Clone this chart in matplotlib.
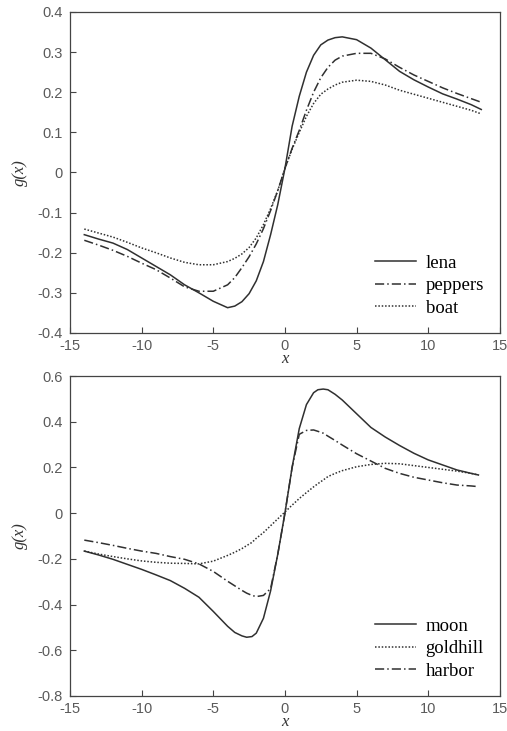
import matplotlib.pyplot as plt
import numpy as np

# top panel
x_top = [-14, -13, -12, -11, -10, -9, -8, -7, -6, -5, -4, -3.5, -3, -2.5, -2, -1.5, -1, -0.5, 0,
         0.5, 1, 1.5, 2, 2.5, 3, 3.5, 4, 5, 6, 7, 8, 9, 10, 11, 12, 13, 13.7]
lena = [-0.155, -0.166, -0.176, -0.192, -0.213, -0.234, -0.255, -0.28, -0.30, -0.321, -0.337,
        -0.333, -0.322, -0.302, -0.27, -0.222, -0.155, -0.08, 0.01,
        0.115, 0.19, 0.25, 0.292, 0.318, 0.33, 0.336, 0.338, 0.331, 0.31, 0.281,
        0.252, 0.231, 0.213, 0.196, 0.183, 0.169, 0.157]
peppers = [-0.169, -0.181, -0.194, -0.209, -0.226, -0.242, -0.263, -0.285, -0.296, -0.296, -0.28,
           -0.262, -0.237, -0.21, -0.178, -0.14, -0.095, -0.045, 0.01,
           0.06, 0.105, 0.155, 0.2, 0.236, 0.262, 0.28, 0.29, 0.297, 0.297, 0.283,
           0.262, 0.243, 0.227, 0.211, 0.197, 0.184, 0.175]
boat = [-0.141, -0.151, -0.161, -0.174, -0.188, -0.20, -0.213, -0.224, -0.23, -0.23, -0.222,
        -0.214, -0.203, -0.187, -0.163, -0.13, -0.09, -0.045, 0.01,
        0.058, 0.1, 0.14, 0.172, 0.195, 0.208, 0.218, 0.225, 0.23, 0.227, 0.218,
        0.205, 0.195, 0.185, 0.175, 0.165, 0.155, 0.146]

# bottom panel
x_bot = [-14, -13, -12, -11, -10, -9, -8, -7, -6, -5, -4, -3.5, -3, -2.67, -2.3, -2, -1.5, -1,
         -0.5, 0, 0.5, 1, 1.5, 2, 2.3, 2.67, 3, 3.5, 4, 5, 6, 7, 8, 9, 10, 11, 12, 13, 13.5]
moon = [-0.166, -0.183, -0.202, -0.224, -0.246, -0.27, -0.295, -0.329, -0.368, -0.43, -0.495,
        -0.522, -0.537, -0.543, -0.54, -0.525, -0.46, -0.34, -0.18, 0.0, 0.2, 0.37, 0.475, 0.527,
        0.54, 0.543, 0.54, 0.52, 0.495, 0.435, 0.375, 0.333, 0.296, 0.262, 0.233, 0.211, 0.189,
        0.174, 0.167]
goldhill = [-0.166, -0.179, -0.19, -0.20, -0.209, -0.215, -0.219, -0.22, -0.222, -0.21, -0.185,
            -0.171, -0.155, -0.142, -0.128, -0.11, -0.085, -0.055, -0.025, 0.005, 0.035, 0.064,
            0.09, 0.115, 0.129, 0.145, 0.16, 0.174, 0.186, 0.203, 0.213, 0.218, 0.216, 0.208,
            0.20, 0.192, 0.184, 0.174, 0.167]
harbor = [-0.118, -0.129, -0.141, -0.154, -0.166, -0.176, -0.19, -0.202, -0.222, -0.255, -0.298,
          -0.318, -0.338, -0.35, -0.36, -0.365, -0.36, -0.33, -0.18, 0.0, 0.2, 0.345, 0.362, 0.364,
          0.358, 0.35, 0.337, 0.318, 0.298, 0.26, 0.228, 0.196, 0.174, 0.157, 0.145, 0.133, 0.123,
          0.119, 0.116]

solid = '-'
dashdot = (0, (6, 2, 1, 2))
dotted = (0, (1, 1.2))
ink = '#303030'

fig = plt.figure(figsize=(5.07, 7.31), dpi=100)
ax1 = fig.add_axes([0.138, 0.5445, 0.848, 0.4391])
ax2 = fig.add_axes([0.138, 0.0479, 0.848, 0.4377])

ax1.plot(x_top, lena, color=ink, lw=1.1, ls=solid, label='lena')
ax1.plot(x_top, peppers, color=ink, lw=1.1, ls=dashdot, label='peppers')
ax1.plot(x_top, boat, color=ink, lw=1.1, ls=dotted, label='boat')
ax1.set_ylim(-0.4, 0.4)
ax1.set_yticks(np.arange(-0.4, 0.41, 0.1))
ax1.set_yticklabels(['-0.4', '-0.3', '-0.2', '-0.1', '0', '0.1', '0.2', '0.3', '0.4'])

ax2.plot(x_bot, moon, color=ink, lw=1.1, ls=solid, label='moon')
ax2.plot(x_bot, goldhill, color=ink, lw=1.1, ls=dotted, label='goldhill')
ax2.plot(x_bot, harbor, color=ink, lw=1.1, ls=dashdot, label='harbor')
ax2.set_ylim(-0.8, 0.6)
ax2.set_yticks(np.arange(-0.8, 0.61, 0.2))
ax2.set_yticklabels(['-0.8', '-0.6', '-0.4', '-0.2', '0', '0.2', '0.4', '0.6'])

for ax in (ax1, ax2):
    ax.set_xlim(-15, 15)
    ax.set_xticks([-15, -10, -5, 0, 5, 10, 15])
    ax.set_xticklabels(['-15', '-10', '-5', '0', '5', '10', '15'])
    ax.tick_params(direction='in', length=4, width=0.8, color='#444444',
                   labelsize=10.5, labelcolor='#5a5a5a')
    ax.tick_params(axis='x', pad=4)
    ax.tick_params(axis='y', pad=5)
    for lab in ax.get_xticklabels() + ax.get_yticklabels():
        lab.set_family('Liberation Sans')
    for s in ax.spines.values():
        s.set_color('#444444')
        s.set_linewidth(0.9)
    ax.set_xlabel('x', family='Liberation Serif', style='italic', fontsize=12,
                  color='#333333', labelpad=-1)
    ax.set_ylabel('g(x)', family='Liberation Serif', style='italic', fontsize=12,
                  color='#333333', labelpad=7)
    ax.legend(loc='lower right', frameon=False, handlelength=2.2, handletextpad=0.5,
              labelspacing=0.3, borderaxespad=0.45,
              prop={'family': 'Liberation Serif', 'size': 13.5})

fig.savefig('out.png', dpi=100)
